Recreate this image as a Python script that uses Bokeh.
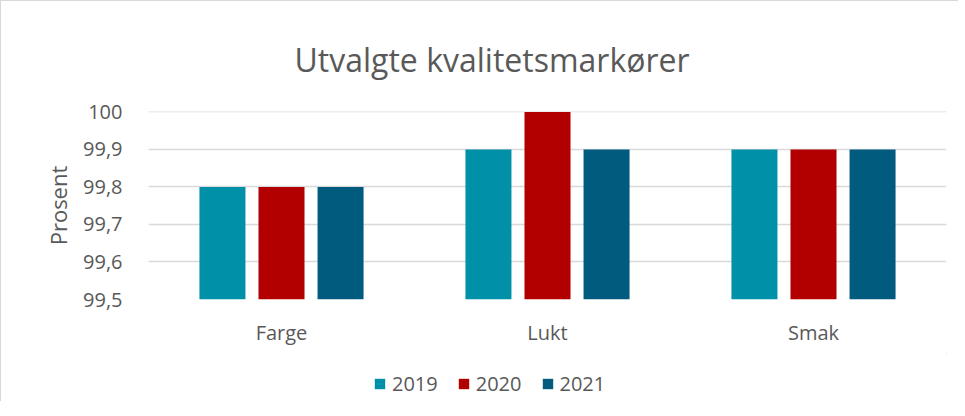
from bokeh.plotting import figure
from bokeh.layouts import column
from bokeh.models import (FactorRange, Range1d, FixedTicker, CustomJSTickFormatter,
                          Legend, LegendItem, ColumnDataSource)
from bokeh.transform import dodge
from bokeh.embed import file_html
from bokeh.resources import INLINE

categories = ["Farge", "Lukt", "Smak"]
years = ["2019", "2020", "2021"]
v2019 = [99.8, 99.9, 99.9]
v2020 = [99.8, 100.0, 99.9]
v2021 = [99.8, 99.9, 99.9]
y_ticks = [99.5, 99.6, 99.7, 99.8, 99.9, 100.0]
colors = ["#0090A8", "#B20000", "#005B7E"]

FONT = "Open Sans"
GRAY = "#595959"

src = ColumnDataSource(data=dict(cat=categories, y2019=v2019, y2020=v2020, y2021=v2021))

p = figure(x_range=FactorRange(*categories, range_padding=0),
           y_range=Range1d(99.5, 100.001),
           width=957, height=352, output_backend="svg", toolbar_location=None,
           min_border_left=147, min_border_right=12, min_border_top=110, min_border_bottom=54,
           title="Utvalgte kvalitetsmarkører")
p.outline_line_color = None

p.title.align = "left"
p.title.offset = 146
p.title.text_font = FONT
p.title.text_font_size = "32px"
p.title.text_font_style = "normal"
p.title.text_color = GRAY
p.title.standoff = 62

offsets = [-0.222, 0.0, 0.222]
for col, off, c in zip(["y2019", "y2020", "y2021"], offsets, colors):
    p.vbar(x=dodge("cat", off, range=p.x_range), top=col, bottom=99.5, width=0.173,
           source=src, fill_color=c, line_color=None)

# axes
p.yaxis.ticker = FixedTicker(ticks=y_ticks)
p.yaxis.formatter = CustomJSTickFormatter(code="""
    if (Math.abs(tick - 100) < 1e-6) { return "100"; }
    return tick.toFixed(1).replace(".", ",");
""")
for ax in (p.xaxis, p.yaxis):
    ax.axis_line_color = None
    ax.major_tick_line_color = None
    ax.minor_tick_line_color = None
    ax.major_label_text_font = FONT
    ax.major_label_text_color = GRAY
    ax.major_label_text_font_size = "20px"
p.yaxis.major_label_standoff = 20
p.xaxis.major_label_standoff = 13
p.yaxis.axis_label = "Prosent"
p.yaxis.axis_label_text_font = FONT
p.yaxis.axis_label_text_font_style = "normal"
p.yaxis.axis_label_text_font_size = "22px"
p.yaxis.axis_label_text_color = GRAY
p.yaxis.axis_label_standoff = 7

p.xgrid.grid_line_color = None
p.ygrid.grid_line_color = "#D9D9D9"
p.ygrid.grid_line_width = 1.5
p.ygrid.ticker = FixedTicker(ticks=y_ticks)

# legend strip below the chart (its swatches sit outside the visible range)
lg = figure(width=957, height=48, x_range=Range1d(0, 1), y_range=Range1d(0, 1),
            output_backend="svg", toolbar_location=None,
            min_border_left=147, min_border_right=12, min_border_top=0, min_border_bottom=0)
lg.axis.visible = False
lg.grid.visible = False
lg.outline_line_color = None
items = []
for y, c in zip(years, colors):
    r = lg.vbar(x=[5], top=[5], bottom=[4.9], width=0.1, fill_color=c, line_color=None)
    items.append(LegendItem(label=y, renderers=[r]))
legend = Legend(items=items, orientation="horizontal", location=(225, 4),
                label_text_font=FONT, label_text_font_size="20px", label_text_color=GRAY,
                glyph_width=13, glyph_height=13, label_standoff=6, spacing=19,
                border_line_color=None, background_fill_alpha=0, padding=0, margin=0)
lg.add_layout(legend)

layout = column(p, lg, spacing=0)
layout.styles = {"border-top": "1px solid #D9D9D9", "border-left": "1px solid #D9D9D9"}

open("out.html", "w").write(file_html(layout, INLINE))
